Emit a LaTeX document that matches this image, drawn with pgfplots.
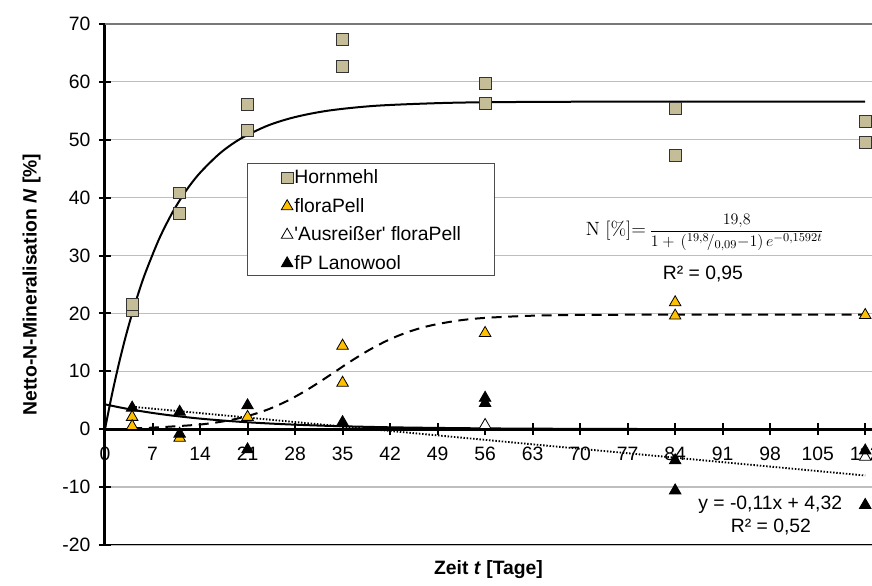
\documentclass[border=0pt]{standalone}
\usepackage[no-math]{fontspec}
\setmainfont{Liberation Sans}
\usepackage{pgfplots}
\pgfplotsset{compat=1.18}
\definecolor{hmtan}{RGB}{196,189,151}
\definecolor{fporange}{RGB}{255,192,0}
\definecolor{gridgray}{RGB}{190,190,190}
\definecolor{topgray}{RGB}{120,120,120}
\newcommand{\fs}{\fontsize{14.5}{17}\selectfont}

\begin{document}
\begin{tikzpicture}
\begin{axis}[
  scale only axis, width=575.25pt, height=390.75pt,
  xmin=0, xmax=113, ymin=-20, ymax=70,
  axis x line=middle, axis y line=left,
  axis line style={-, line width=2.25pt, black},
  every inner x axis line/.append style={-},
  every outer y axis line/.append style={-},
  xtick={0,7,...,112}, ytick={-20,-10,...,70},
  tick align=center, major tick length=9pt,
  every tick/.style={black, line width=1.5pt},
  hide obscured x ticks=false, hide obscured y ticks=false,
  ymajorgrids, major grid style={draw=gridgray, line width=0.9pt},
  tick label style={font=\fs},
  xticklabel style={yshift=-5.25pt},
  yticklabel style={xshift=-3pt},
  /pgf/number format/assume math mode=true,
  legend cell align=left,
  legend style={at={(0.1851,0.7332)}, anchor=north west, draw=black!70, line width=0.75pt,
    fill=white, inner xsep=24.5pt, inner ysep=3pt, row sep=7.9pt, column sep=0pt, font=\fs,
    nodes={inner xsep=1pt, inner ysep=0pt, text height=12.3pt, text depth=1.2pt}},
  legend image code/.code={\path[draw=none, fill=none] (0pt,-4pt) rectangle (9.75pt,4pt); \draw[#1] plot coordinates {(5.25pt,-1pt)};},
]
% top border and bottom border
\draw[topgray, line width=0.9pt] (rel axis cs:0,1) -- (rel axis cs:1,1);
\draw[black, line width=0.9pt] (rel axis cs:0,0) -- (rel axis cs:1,0);

% trend curves
\addplot[forget plot, black, line width=1.5pt, smooth] coordinates {
 (0,0) (1,5.85) (2,11.09) (3,15.79) (4,20.0) (5,23.78) (6,27.17) (8,32.94) (10,37.57)
 (12,41.30) (14,44.29) (17,47.73) (20,50.20) (24,52.46) (28,53.92) (33,55.05) (40,55.88)
 (50,56.36) (60,56.52) (80,56.6) (112,56.6)};
\addplot[forget plot, black, line width=1.5pt, dash pattern=on 7.5pt off 5pt, smooth] coordinates {
 (4,0.17) (7,0.27) (14,0.81) (18,1.47) (21,2.27) (24,3.41) (27,4.98) (30,6.96) (33,9.23)
 (36,11.58) (39,13.74) (42,15.55) (45,16.93) (48,17.92) (52,18.76) (56,19.23) (63,19.61)
 (70,19.74) (84,19.79) (112,19.8)};
\addplot[forget plot, black, line width=1.5pt, smooth] coordinates {
 (0,4.3) (2,3.81) (4,3.37) (7,2.81) (10,2.34) (14,1.83) (18,1.44) (21,1.20) (25,0.94)
 (30,0.69) (35,0.51) (42,0.33) (50,0.21) (60,0.11) (75,0.045) (90,0.018) (112,0.005)};
\addplot[forget plot, black, line width=1.4pt, dash pattern=on 1.1pt off 1.3pt] coordinates {
 (4,3.88) (112,-8.0)};

% data
\addplot[only marks, mark=square*, mark size=4.4pt, mark options={fill=hmtan, draw=black!80, line width=0.6pt}] coordinates {
 (4,20.5) (4,21.5) (11,40.8) (11,37.3) (21,56.1) (21,51.6) (35,67.3) (35,62.7)
 (56,59.8) (56,56.3) (84,55.4) (84,47.3) (112,53.2) (112,49.6)};
\addlegendentry{Hornmehl}
\addplot[only marks, mark=triangle*, mark size=5pt, mark options={fill=fporange, draw=black, line width=0.6pt}] coordinates {
 (4,2.1) (4,0.5) (11,-1.5) (21,2.1) (35,14.4) (35,8.0) (56,16.6) (84,21.9) (84,19.6) (112,19.7)};
\addlegendentry{floraPell}
\addplot[only marks, mark=triangle*, mark size=5pt, mark options={fill=white, draw=black, line width=0.6pt}] coordinates {
 (56,0.7) (112,-4.8)};
\addlegendentry{\textquotesingle Ausreißer\textquotesingle{} floraPell}
\addplot[only marks, mark=triangle*, mark size=5pt, mark options={fill=black, draw=black, line width=0.6pt}] coordinates {
 (4,3.7) (11,3.0) (11,-0.8) (21,4.1) (21,-3.5) (35,1.2) (56,5.4) (56,4.5)
 (84,-5.4) (84,-10.6) (112,-3.7) (112,-13.1)};
\addlegendentry{fP Lanowool}

% annotations
\node[anchor=center, inner sep=0pt] at (axis cs:88.4,34) {\fs$\mathrm{N}\;[\%]{=}$\,{\fontsize{12.2}{14}\selectfont$\displaystyle\frac{19{,}8}{1+\,({}^{19{,}8}\!/_{0{,}09}{-}1)\,e^{-0{,}1592t}}$}};
\node[font=\fs, anchor=center] at (axis cs:88.1,26.9) {R² = 0,95};
\node[font=\fs, anchor=center] at (axis cs:98.0,-13.1) {y = -0,11x + 4,32};
\node[font=\fs, anchor=center] at (axis cs:98.1,-16.9) {R² = 0,52};
\end{axis}
\node[font=\fs\bfseries, anchor=center] at ([yshift=-18.75pt]current axis.south) {Zeit \textit{t} [Tage]};
\node[font=\fs\bfseries, anchor=center, rotate=90] at ([xshift=-55pt]current axis.west) {Netto-N-Mineralisation \textit{N} [\%]};
\pgfresetboundingbox
\useasboundingbox ([xshift=-78.75pt, yshift=-30.75pt]current axis.south west) rectangle ([yshift=18pt]current axis.north east);
\end{tikzpicture}
\end{document}
